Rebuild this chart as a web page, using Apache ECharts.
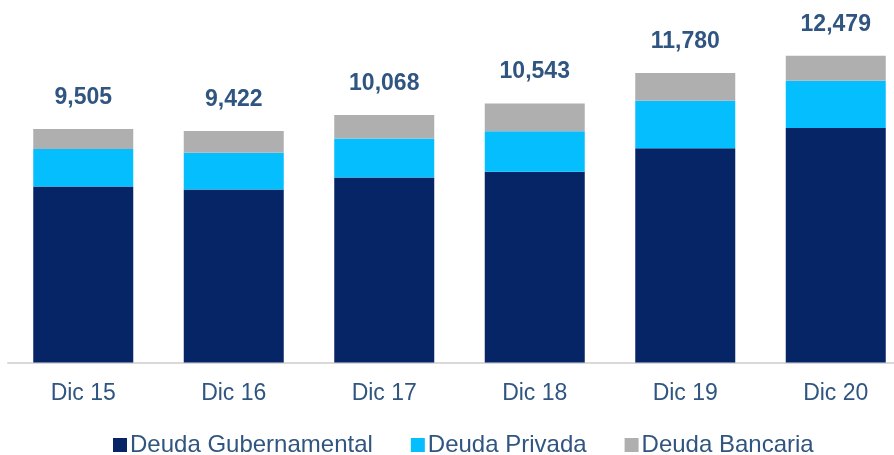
<!DOCTYPE html>
<html>
<head>
    <meta charset="utf-8" />
    <title></title>
    <script src="https://cdn.jsdelivr.net/npm/echarts@6/dist/echarts.min.js"></script>
    <style>
        html, body { margin: 0; padding: 0; background: #fff; }
    </style>
</head>
<body>
    <div id="divChart" style="width:894px;height:455px;"></div>
    <script>
        let categories = ['Dic 15', 'Dic 16', 'Dic 17', 'Dic 18', 'Dic 19', 'Dic 20'];
        let gubernamental = [7161, 7036, 7530, 7760, 8720, 9540];
        let privada = [1528, 1500, 1590, 1655, 1936, 1925];
        let bancaria = [816, 886, 948, 1128, 1124, 1014];

        let txtColor = '#2F5580';
        let fontName = '"Liberation Sans", Arial, sans-serif';

        // total on top of each stack
        let totalLabel = function (p) {
            let i = p.dataIndex;
            let t = gubernamental[i] + privada[i] + bancaria[i];
            return t.toLocaleString('en-US');
        };

        let option = {
            backgroundColor: '#fff',
            animation: false,
            grid: {
                left: 8,
                width: 903,
                top: 18.5,
                bottom: 92.5,
                outerBoundsMode: 'none',
                containLabel: false
            },
            legend: {
                top: 428,
                left: 108,
                icon: 'rect',
                itemWidth: 14,
                itemHeight: 14,
                itemGap: 38,
                textStyle: {
                    color: txtColor,
                    fontSize: 24,
                    fontFamily: fontName,
                    lineHeight: 24,
                    padding: [0, 0, 0, -2]
                },
                data: ['Deuda Gubernamental', 'Deuda Privada', 'Deuda Bancaria']
            },
            xAxis: {
                type: 'category',
                data: categories,
                axisTick: { show: false },
                axisLine: {
                    lineStyle: { color: '#D9D9D9', width: 2 }
                },
                axisLabel: {
                    margin: 20,
                    color: txtColor,
                    fontSize: 23,
                    fontFamily: fontName
                }
            },
            yAxis: {
                type: 'value',
                min: 0,
                max: 14000,
                show: false,
                splitLine: { show: false }
            },
            series: [
                {
                    name: 'Deuda Gubernamental',
                    type: 'bar',
                    stack: 'total',
                    barWidth: 100,
                    data: gubernamental,
                    itemStyle: { color: '#062566' }
                },
                {
                    name: 'Deuda Privada',
                    type: 'bar',
                    stack: 'total',
                    barWidth: 100,
                    data: privada,
                    itemStyle: { color: '#04BEFE' }
                },
                {
                    name: 'Deuda Bancaria',
                    type: 'bar',
                    stack: 'total',
                    barWidth: 100,
                    data: bancaria,
                    itemStyle: { color: '#AFAFAF' },
                    label: {
                        show: true,
                        position: 'top',
                        distance: 20,
                        formatter: totalLabel,
                        color: txtColor,
                        fontSize: 23,
                        fontWeight: 'bold',
                        fontFamily: fontName,
                        lineHeight: 23
                    }
                }
            ]
        };
        echarts.init(document.getElementById('divChart')).setOption(option);
    </script>
</body>
</html>
